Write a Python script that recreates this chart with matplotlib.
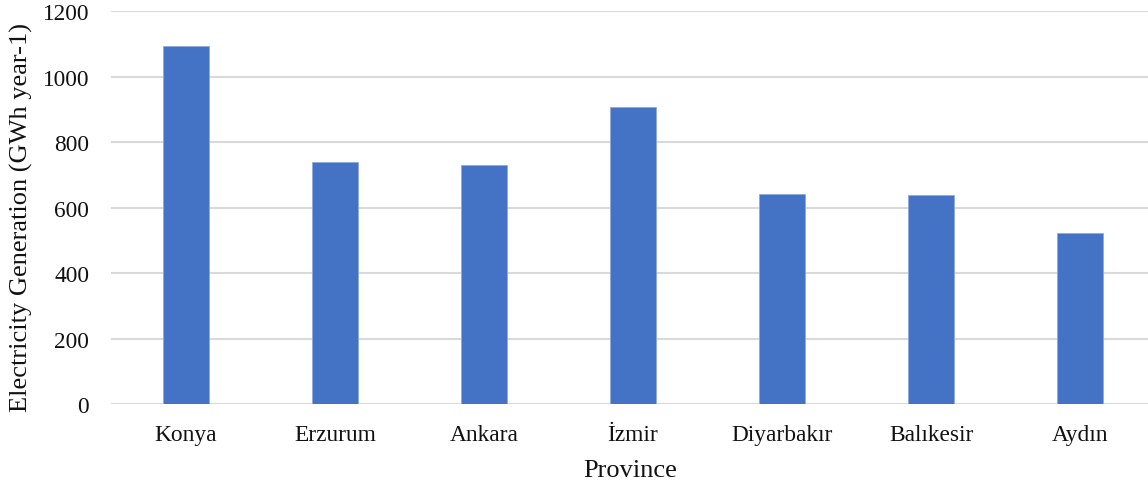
import matplotlib.pyplot as plt

plt.rcParams['font.family'] = ['Liberation Serif', 'DejaVu Serif']

provinces = ['Konya', 'Erzurum', 'Ankara', 'İzmir', 'Diyarbakır', 'Balıkesir', 'Aydın']
generation = [1094, 740, 731, 908, 643, 640, 524]
yticks = [0, 200, 400, 600, 800, 1000, 1200]

fig = plt.figure(figsize=(11.48, 4.85), dpi=100)
ax = fig.add_axes([0.0971, 0.1643, 0.9029, 0.8103])

x = range(len(provinces))
ax.bar(x, generation, width=0.31, color='#4472C4', edgecolor='#8FAADC',
       linewidth=0.6, zorder=3)

ax.set_xlim(-0.5, 6.456)
ax.set_ylim(0, 1200)
ax.set_yticks(yticks)
ax.set_xticks(list(x))
ax.set_xticklabels(provinces)

ax.yaxis.grid(True, color='#d9d9d9', linewidth=1.5, zorder=0)
ax.set_axisbelow(True)
for s in ax.spines.values():
    s.set_visible(False)
ax.tick_params(axis='both', length=0, labelsize=16.8, colors='#111111')
ax.tick_params(axis='y', pad=16)
ax.tick_params(axis='x', pad=14)

ax.set_xlabel('Province', fontsize=19, color='#111111', labelpad=10)
ax.set_ylabel('Electricity Generation (GWh year-1)', fontsize=19,
              color='#111111')
ax.yaxis.set_label_coords(-0.076, 0.479)

fig.savefig('out.png', dpi=100)
